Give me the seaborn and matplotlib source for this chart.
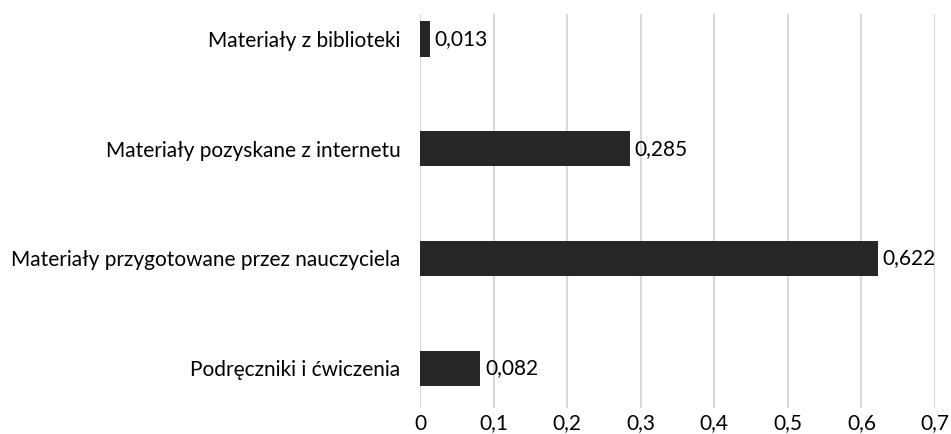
import matplotlib

matplotlib.use("Agg")
import matplotlib.pyplot as plt
import matplotlib.ticker as mticker
import pandas as pd
import seaborn as sns

categories = [
    "Materiały z biblioteki",
    "Materiały pozyskane z internetu",
    "Materiały przygotowane przez nauczyciela",
    "Podręczniki i ćwiczenia",
]
values = [0.013, 0.285, 0.622, 0.082]
x_ticks = [0, 0.1, 0.2, 0.3, 0.4, 0.5, 0.6, 0.7]

sns.set_theme(style="white")
plt.rcParams["font.family"] = ["Lato", "DejaVu Sans"]

df = pd.DataFrame({"category": categories, "value": values})

fig = plt.figure(figsize=(9.51, 4.34), dpi=100)
ax = fig.add_axes([0.4416, 0.0599, 0.5416, 0.9078])

sns.barplot(data=df, x="value", y="category", orient="h", color="#262626",
            saturation=1, width=0.32, linewidth=0, ax=ax)

ax.set_xlim(0, 0.7)
ax.set_ylim(3.364, -0.228)
ax.set_xticks(x_ticks)
ax.xaxis.set_major_formatter(
    mticker.FuncFormatter(lambda x, _: f"{x:.1f}".replace(".", ",") if x else "0")
)
ax.grid(axis="x", color="#d9d9d9", linewidth=1.5)
ax.set_axisbelow(True)
for s in ax.spines.values():
    s.set_visible(False)
ax.set_xlabel("")
ax.set_ylabel("")
ax.tick_params(axis="y", length=0, pad=14, labelsize=15, labelcolor="#000000")
ax.tick_params(axis="x", length=0, pad=4, labelsize=15, labelcolor="#000000")

for i, v in enumerate(values):
    ax.text(v + 0.007, i, f"{v:.3f}".replace(".", ","), va="center", ha="left",
            fontsize=15, color="#000000")

fig.savefig("out.png", dpi=100)
